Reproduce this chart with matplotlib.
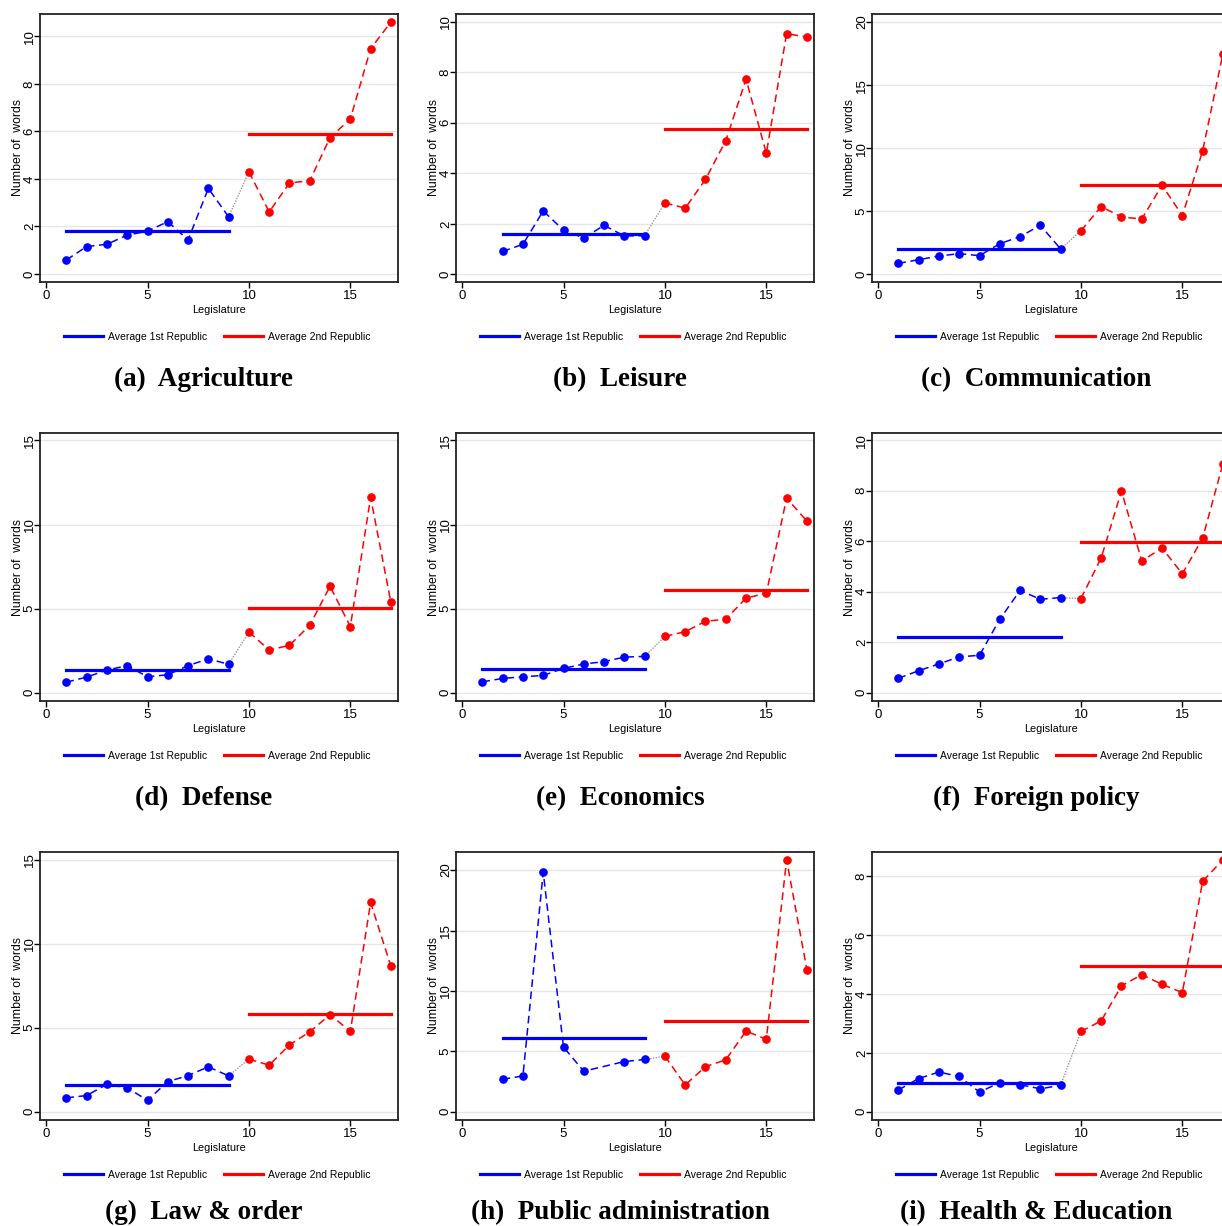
import numpy as np
import matplotlib.pyplot as plt
from matplotlib.lines import Line2D

plt.rcParams['font.family'] = ['Liberation Sans', 'DejaVu Sans']

nan = np.nan
legislature = list(range(1, 18))

# panel captions
letters = ['a', 'b', 'c', 'd', 'e', 'f', 'g', 'h', 'i']
topics = ['Agriculture', 'Leisure', 'Communication', 'Defense', 'Economics',
          'Foreign policy', 'Law & order', 'Public administration',
          'Health & Education']

# number of words per legislature (1st republic: 1-9, 2nd republic: 10-17)
agriculture = [0.59, 1.15, 1.25, 1.63, 1.80, 2.20, 1.43, 3.60, 2.40,
               4.30, 2.61, 3.83, 3.92, 5.74, 6.52, 9.48, 10.60]
leisure = [nan, 0.91, 1.19, 2.51, 1.75, 1.44, 1.94, 1.52, 1.53,
           2.83, 2.62, 3.76, 5.29, 7.72, 4.79, 9.52, 9.39]
communication = [0.85, 1.14, 1.43, 1.62, 1.46, 2.41, 2.97, 3.87, 1.99,
                 3.44, 5.35, 4.53, 4.37, 7.05, 4.64, 9.77, 17.48]
defense = [0.63, 0.93, 1.35, 1.61, 0.95, 1.07, 1.61, 2.02, 1.69,
           3.61, 2.54, 2.82, 4.01, 6.33, 3.93, 11.61, 5.38]
economics = [0.65, 0.85, 0.95, 1.03, 1.45, 1.71, 1.85, 2.12, 2.16,
             3.35, 3.63, 4.25, 4.37, 5.63, 5.91, 11.57, 10.20]
foreign_policy = [0.57, 0.87, 1.14, 1.42, 1.48, 2.91, 4.05, 3.70, 3.77,
                  3.73, 5.34, 7.99, 5.22, 5.73, 4.71, 6.12, 9.07]
law_order = [0.82, 0.96, 1.63, 1.41, 0.68, 1.79, 2.15, 2.67, 2.13,
             3.13, 2.77, 3.98, 4.76, 5.78, 4.78, 12.47, 8.67]
public_admin = [nan, 2.68, 2.96, 19.83, 5.34, 3.35, nan, 4.15, 4.32,
                4.59, 2.21, 3.73, 4.29, 6.67, 6.00, 20.83, 11.76]
health_education = [0.74, 1.13, 1.35, 1.20, 0.67, 0.99, 0.92, 0.78, 0.90,
                    2.73, 3.09, 4.28, 4.66, 4.33, 4.05, 7.83, 8.57]

avg_1st = [1.80, 1.61, 1.99, 1.35, 1.43, 2.22, 1.57, 6.09, 0.97]
avg_2nd = [5.87, 5.75, 7.10, 5.02, 6.11, 5.99, 5.82, 7.52, 4.94]

y_ticks = [[0, 2, 4, 6, 8, 10], [0, 2, 4, 6, 8, 10], [0, 5, 10, 15, 20],
           [0, 5, 10, 15], [0, 5, 10, 15], [0, 2, 4, 6, 8, 10],
           [0, 5, 10, 15], [0, 5, 10, 15, 20], [0, 2, 4, 6, 8]]
y_lims = [(-0.34, 10.94), (-0.30, 10.30), (-0.63, 20.64),
          (-0.49, 15.44), (-0.49, 15.44), (-0.33, 10.29),
          (-0.50, 15.48), (-0.69, 21.50), (-0.28, 8.83)]

series = [agriculture, leisure, communication, defense, economics,
          foreign_policy, law_order, public_admin, health_education]

W, H = 1222, 1226
fig = plt.figure(figsize=(W / 100, H / 100), dpi=100)

BLUE = '#0000ff'
RED = '#ff0000'

for i, vals in enumerate(series):
    r, c = divmod(i, 3)
    left = 40 + c * 416
    top = 14 + r * 419
    ax = fig.add_axes([left / W, 1 - (top + 268) / H, 358 / W, 268 / H])

    x = np.array(legislature)
    y = np.array(vals, dtype=float)
    first = x <= 9
    ok = ~np.isnan(y)
    xb, yb = x[first & ok], y[first & ok]
    xr, yr = x[~first & ok], y[~first & ok]

    # link between the two republics
    ax.plot([xb[-1], xr[0]], [yb[-1], yr[0]], color='#999999', lw=1,
            ls=(0, (1, 1)), zorder=2)
    ax.plot(xb, yb, color=BLUE, lw=1.1, ls=(0, (5, 3)), marker='o',
            ms=5.2, zorder=3)
    ax.plot(xr, yr, color=RED, lw=1.1, ls=(0, (5, 3)), marker='o',
            ms=5.2, zorder=3)
    ax.plot([xb[0], 9], [avg_1st[i]] * 2, color=BLUE, lw=2.3, zorder=4)
    ax.plot([10, 17], [avg_2nd[i]] * 2, color=RED, lw=2.3, zorder=4)

    ax.set_xlim(-0.3, 17.35)
    ax.set_ylim(*y_lims[i])
    ax.set_xticks([0, 5, 10, 15])
    ax.set_yticks(y_ticks[i])
    ax.grid(axis='y', color='#e6e6e6', lw=1.0, zorder=0)
    ax.set_axisbelow(True)
    for s in ax.spines.values():
        s.set_linewidth(1.3)
        s.set_color('#222222')
    ax.tick_params(axis='x', direction='out', length=4, width=1,
                   labelsize=9.5, pad=2)
    ax.tick_params(axis='y', direction='out', length=4, width=1,
                   labelsize=9.5, pad=-1)
    for lab in ax.get_yticklabels():
        lab.set_rotation(90)
        lab.set_va('center')
    ax.set_xlabel('Legislature', fontsize=7.8, labelpad=2)
    ax.set_ylabel('Number of  words', fontsize=8.8, labelpad=0)

    handles = [Line2D([], [], color=BLUE, lw=2.3),
               Line2D([], [], color=RED, lw=2.3)]
    ax.legend(handles, ['Average 1st Republic', 'Average 2nd Republic'],
              loc='center', bbox_to_anchor=(0.496, -0.205), ncol=2,
              frameon=False, fontsize=7.5, handlelength=3.75,
              handletextpad=0.48, columnspacing=1.6)

    base = 386 + r * 419 if r < 2 else 1219
    fig.text((204 + c * 416) / W, 1 - base / H,
             '(%s)  %s' % (letters[i], topics[i]), ha='center', va='baseline',
             fontsize=19.5, fontweight='bold', family='Liberation Serif')

fig.savefig('out.png', dpi=100)
